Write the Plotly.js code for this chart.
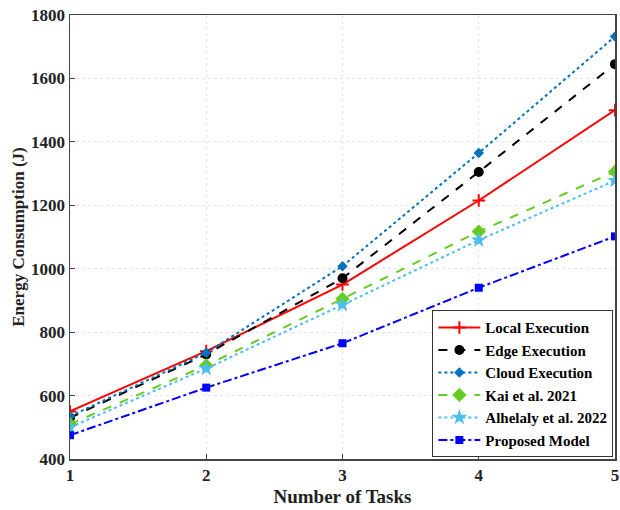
<!DOCTYPE html>
<html><head><meta charset="utf-8">
<script src="https://cdn.plot.ly/plotly-3.0.1.min.js"></script>
<style>html,body{margin:0;padding:0;background:#fff}#c{width:620px;height:510px}</style>
</head><body><div id="c"></div>
<script>
const tasks = [1, 2, 3, 4, 5];
const localExec = [550, 740, 950, 1215, 1500];
const edgeExec = [530, 730, 970, 1305, 1645];
const cloudExec = [535, 735, 1008, 1365, 1732];
const kai2021 = [510, 695, 905, 1117, 1306];
const alhelaly2022 = [500, 685, 886, 1090, 1278];
const proposed = [475, 625, 765, 940, 1102];
const names = ['Local Execution','Edge Execution','Cloud Execution','Kai et al. 2021','Alhelaly et al. 2022','Proposed Model'];

const styles = [
  {color:'#FF0000', dash:'solid', symbol:'cross-thin', size:9, lw:2},
  {color:'#000000', dash:'dash', symbol:'circle', size:10, lw:2},
  {color:'#0072BD', dash:'dot', symbol:'diamond', size:8, lw:2},
  {color:'#66CC22', dash:'dash', symbol:'diamond', size:11, lw:2},
  {color:'#4DBEEE', dash:'dot', symbol:'star', size:12, lw:2},
  {color:'#0000FF', dash:'dashdot', symbol:'square', size:8, lw:2}
];
const series = [localExec, edgeExec, cloudExec, kai2021, alhelaly2022, proposed];
const data = series.map((s,i)=>({
  x: tasks, y: s, name: names[i], type:'scatter', mode:'lines+markers',
  line:{color:styles[i].color, dash:styles[i].dash, width:styles[i].lw},
  marker:{symbol:styles[i].symbol, size:styles[i].size, color:styles[i].color,
    line:{color:styles[i].color, width: styles[i].symbol==='cross-thin'?2:0}}
}));
const font = {family:'"Liberation Serif", "Times New Roman", serif', color:'#222', size:15};
const layout = {
  width:620, height:510,
  margin:{l:70, r:5, t:15, b:51},
  paper_bgcolor:'#fff', plot_bgcolor:'#fff',
  font: font,
  showlegend:true,
  legend:{x:0.997, y:0.004, xanchor:'right', yanchor:'bottom', bgcolor:'#fff', bordercolor:'#333', borderwidth:1,
    itemwidth:42,
    font:{family:font.family, size:15, color:'#000', weight:'bold'}, tracegroupgap:0},
  xaxis:{range:[1,5], tickvals:tasks, ticks:'inside', ticklen:5, tickcolor:'#444',
    showline:true, linecolor:'#444', linewidth:1.5, mirror:true,
    showgrid:true, gridcolor:'#E2E2F4', griddash:'dot', gridwidth:1, zeroline:false,
    tickfont:{family:font.family, size:17, color:'#222', weight:'bold'},
    title:{text:'Number of Tasks', font:{family:font.family, size:19, color:'#222', weight:'bold'}, standoff:6}},
  yaxis:{range:[400,1800], dtick:200, ticks:'inside', ticklen:5, tickcolor:'#444',
    showline:true, linecolor:'#444', linewidth:1.5, mirror:true,
    showgrid:true, gridcolor:'#E2E2F4', griddash:'dot', gridwidth:1, zeroline:false,
    tickfont:{family:font.family, size:17, color:'#222', weight:'bold'},
    title:{text:'Energy Consumption (J)', font:{family:font.family, size:17, color:'#222', weight:'bold'}, standoff:2}}
};
Plotly.newPlot('c', data, layout, {displayModeBar:false, staticPlot:true});
</script></body></html>
